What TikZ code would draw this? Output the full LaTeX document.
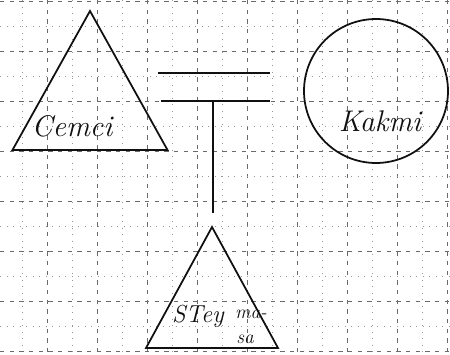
\documentclass[tikz,border=0pt]{standalone}
\usetikzlibrary{shapes.geometric}
\definecolor{ink}{HTML}{101010}
\definecolor{gridmark}{HTML}{6A6A6A}
\tikzset{
  figure/.style={draw=ink,line width=1pt,inner sep=0pt,outer sep=0pt},
  tri/.style={figure,isosceles triangle,isosceles triangle stretches,shape border rotate=90},
  ring/.style={figure,circle},
  bond/.style={draw=ink,line width=1pt},
  hand/.style={font=\itshape\fontsize{17}{18}\selectfont,text=ink,inner sep=1pt},
  small hand/.style={hand,font=\itshape\fontsize{11}{12}\selectfont},
  major/.style={draw=gridmark,line width=0.45pt,dash pattern=on 2.5pt off 3pt},
  minor/.style={draw=gridmark!70,line width=0.4pt,dash pattern=on 0.7pt off 3pt},
}

\begin{document}
\begin{tikzpicture}[x=0.02cm,y=-0.02cm]
  \useasboundingbox (0,0) rectangle (450,355);

  % squared paper behind the sketch
  \foreach \x in {22,72,...,422} \draw[minor] (\x,0) -- (\x,355);
  \foreach \x in {47,97,...,447} \draw[major] (\x,0) -- (\x,355);
  \foreach \y in {26,76,...,326} \draw[minor] (0,\y) -- (450,\y);
  \foreach \y in {1,51,...,351} \draw[major] (0,\y) -- (450,\y);

  \node[tri,minimum width=3.1cm,minimum height=2.78cm,anchor=apex] (cemci) at (90,11) {};
  \node[ring,minimum size=2.88cm] (kakmi) at (376,91) {};
  \node[tri,minimum width=2.64cm,minimum height=2.42cm,anchor=apex] (steymasa) at (212,227) {};

  \node[hand] (cemcitext) at (72,126) {Cemci};
  \node[hand] (kakmitext) at (380,121) {Kakmi};
  \node[hand,font=\itshape\fontsize{14}{15}\selectfont] (steytext) at (198,316) {STey};
  \node[small hand] (matext) at (251,314) {ma-};
  \node[small hand] (satext) at (245,339) {sa};

  % marriage bar and the line down to the child
  \coordinate (bondA) at (158,73);
  \coordinate (bondB) at (270,73);
  \coordinate (bondC) at (161,101);
  \coordinate (bondD) at (270,101);
  \coordinate (descent) at (213,101);
  \draw[bond] (bondA) -- (bondB);
  \draw[bond] (bondC) -- (bondD);
  \draw[bond,line width=0.9pt,shorten >=0.28cm] (descent) -- (descent |- steymasa.apex);
\end{tikzpicture}
\end{document}
